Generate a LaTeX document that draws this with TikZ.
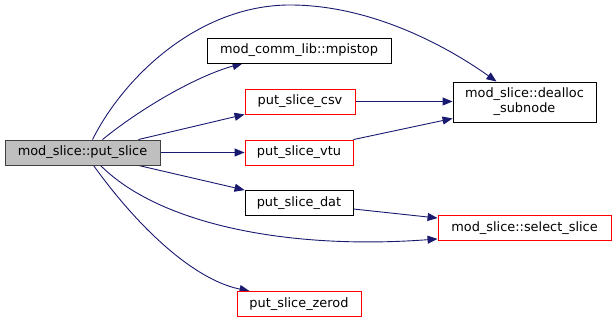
\documentclass[tikz,border=0pt]{standalone}
\usepackage{fontspec}
\setmainfont{DejaVu Sans}
\usetikzlibrary{arrows.meta,backgrounds}
\definecolor{edgeblue}{HTML}{191970}
\definecolor{boxred}{HTML}{FF0000}
\tikzset{
  fn/.style={draw=black, line width=0.9pt, fill=white, inner sep=0pt, minimum height=25pt, align=center, font=\fontsize{12.9}{15}\selectfont},
  fnred/.style={fn, draw=boxred},
  fnmain/.style={fn, draw=black!75, fill=black!25},
  call/.style={draw=edgeblue, line width=0.9pt, -{Triangle[length=10pt,width=8pt]}}
}
\begin{document}
\begin{tikzpicture}[x=1pt,y=-1pt]
\useasboundingbox (0,0) rectangle (616,323);
\node[fnmain, minimum width=155pt] (ps) at (82.5,152.5) {mod\_slice::put\_slice};
\node[fn, minimum width=184pt] (mp) at (299,50.5) {mod\_comm\_lib::mpistop};
\node[fnred, minimum width=110pt] (csv) at (300,101.5) {put\_slice\_csv};
\node[fnred, minimum width=108pt] (vtu) at (299,152.5) {put\_slice\_vtu};
\node[fn, minimum width=108pt] (dat) at (299,203) {put\_slice\_dat};
\node[fnred, minimum width=124pt] (zer) at (299,304) {put\_slice\_zerod};
\node[fn, minimum width=143pt, minimum height=40pt] (dea) at (524.5,102) {mod\_slice::dealloc\\\_subnode};
\node[fnred, minimum width=173pt] (sel) at (524.5,228) {mod\_slice::select\_slice};
\begin{scope}[on background layer]
\draw[call] ([xshift=10pt]ps.north) .. controls (125,75) and (200,5) .. (290,5) .. controls (370,5) and (445,45) .. ([xshift=-28pt]dea.north);
\draw[call] ([xshift=20pt]ps.north) .. controls (145,105) and (200,75) .. ([xshift=36pt]mp.south west);
\draw[call] ([xshift=-22pt]ps.north east) -- (csv.south west);
\draw[call] (ps.east) -- (vtu.west);
\draw[call] ([xshift=-22pt]ps.south east) -- (dat.north west);
\draw[call] ([xshift=18pt]ps.south) .. controls (160,225) and (290,250) .. ([yshift=2pt]sel.south west);
\draw[call] ([xshift=11pt]ps.south) .. controls (140,230) and (195,280) .. ([xshift=13pt]zer.north west);
\draw[call] (csv.east) -- (csv.east -| dea.west);
\draw[call] (vtu.north east) -- ([yshift=4pt]dea.south west);
\draw[call] ([yshift=-6pt]dat.east) -- ([yshift=-3pt]sel.north west);
\end{scope}
\end{tikzpicture}
\end{document}
